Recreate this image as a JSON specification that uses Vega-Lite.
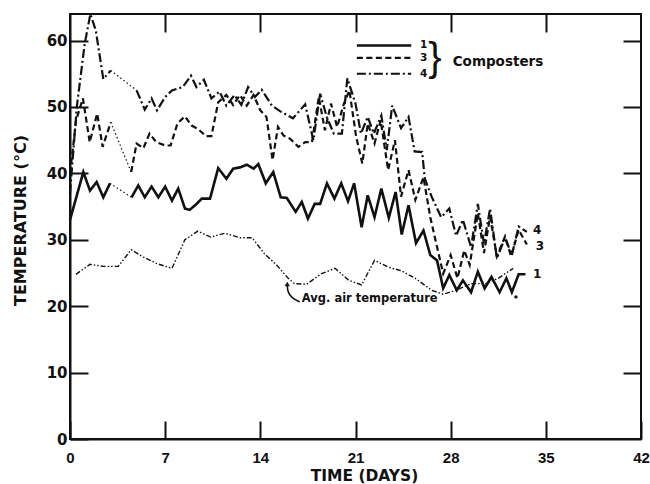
{
  "$schema": "https://vega.github.io/schema/vega-lite/v6.json",
  "width": 571,
  "height": 425,
  "autosize": "none",
  "padding": {"left": 70, "top": 14, "right": 9, "bottom": 45},
  "background": "white",
  "config": {
    "view": {"stroke": "#111", "strokeWidth": 2},
    "axis": {"grid": false}
  },
  "datasets": {
    "series": [
      {"line": "1a", "style": "solid", "d": 0, "t": 33},
      {"line": "1a", "style": "solid", "d": 0.98, "t": 40.2},
      {"line": "1a", "style": "solid", "d": 1.47, "t": 37.4},
      {"line": "1a", "style": "solid", "d": 1.96, "t": 38.7},
      {"line": "1a", "style": "solid", "d": 2.45, "t": 36.4},
      {"line": "1a", "style": "solid", "d": 2.94, "t": 38.5},
      {"line": "1g", "style": "dot", "d": 2.94, "t": 38.5},
      {"line": "1g", "style": "dot", "d": 4.53, "t": 36.4},
      {"line": "1b", "style": "solid", "d": 4.53, "t": 36.4},
      {"line": "1b", "style": "solid", "d": 5.02, "t": 38.2},
      {"line": "1b", "style": "solid", "d": 5.5, "t": 36.4},
      {"line": "1b", "style": "solid", "d": 6.0, "t": 38},
      {"line": "1b", "style": "solid", "d": 6.5, "t": 36.4},
      {"line": "1b", "style": "solid", "d": 7.0, "t": 38},
      {"line": "1b", "style": "solid", "d": 7.5, "t": 35.9},
      {"line": "1b", "style": "solid", "d": 7.96, "t": 37.7},
      {"line": "1b", "style": "solid", "d": 8.46, "t": 34.7},
      {"line": "1b", "style": "solid", "d": 8.8, "t": 34.5},
      {"line": "1b", "style": "solid", "d": 9.3, "t": 35.4},
      {"line": "1b", "style": "solid", "d": 9.7, "t": 36.2},
      {"line": "1b", "style": "solid", "d": 10.3, "t": 36.2},
      {"line": "1b", "style": "solid", "d": 10.9, "t": 40.8},
      {"line": "1b", "style": "solid", "d": 11.5, "t": 39.2},
      {"line": "1b", "style": "solid", "d": 12.0, "t": 40.7},
      {"line": "1b", "style": "solid", "d": 12.5, "t": 40.9},
      {"line": "1b", "style": "solid", "d": 13.0, "t": 41.3},
      {"line": "1b", "style": "solid", "d": 13.5, "t": 40.7},
      {"line": "1b", "style": "solid", "d": 13.85, "t": 41.4},
      {"line": "1b", "style": "solid", "d": 14.4, "t": 38.5},
      {"line": "1b", "style": "solid", "d": 14.95, "t": 40.2},
      {"line": "1b", "style": "solid", "d": 15.5, "t": 36.4},
      {"line": "1b", "style": "solid", "d": 15.95, "t": 36.3},
      {"line": "1b", "style": "solid", "d": 16.6, "t": 34.2},
      {"line": "1b", "style": "solid", "d": 17.05, "t": 35.7},
      {"line": "1b", "style": "solid", "d": 17.5, "t": 33.2},
      {"line": "1b", "style": "solid", "d": 18.0, "t": 35.4},
      {"line": "1b", "style": "solid", "d": 18.4, "t": 35.4},
      {"line": "1b", "style": "solid", "d": 18.9, "t": 38.5},
      {"line": "1b", "style": "solid", "d": 19.45, "t": 36.2},
      {"line": "1b", "style": "solid", "d": 19.95, "t": 38.5},
      {"line": "1b", "style": "solid", "d": 20.45, "t": 35.8},
      {"line": "1b", "style": "solid", "d": 20.9, "t": 38.5},
      {"line": "1b", "style": "solid", "d": 21.45, "t": 31.9},
      {"line": "1b", "style": "solid", "d": 21.9, "t": 36.7},
      {"line": "1b", "style": "solid", "d": 22.4, "t": 33.4},
      {"line": "1b", "style": "solid", "d": 22.9, "t": 37.7},
      {"line": "1b", "style": "solid", "d": 23.45, "t": 33.3},
      {"line": "1b", "style": "solid", "d": 23.95, "t": 37.2},
      {"line": "1b", "style": "solid", "d": 24.4, "t": 30.8},
      {"line": "1b", "style": "solid", "d": 24.9, "t": 35.2},
      {"line": "1b", "style": "solid", "d": 25.45, "t": 29.5},
      {"line": "1b", "style": "solid", "d": 26.0, "t": 31.4},
      {"line": "1b", "style": "solid", "d": 26.5, "t": 27.7},
      {"line": "1b", "style": "solid", "d": 27.0, "t": 26.9},
      {"line": "1b", "style": "solid", "d": 27.45, "t": 22.7},
      {"line": "1b", "style": "solid", "d": 27.9, "t": 24.7},
      {"line": "1b", "style": "solid", "d": 28.45, "t": 22.4},
      {"line": "1b", "style": "solid", "d": 28.9, "t": 23.9},
      {"line": "1b", "style": "solid", "d": 29.5, "t": 22.1},
      {"line": "1b", "style": "solid", "d": 30.0, "t": 25.2},
      {"line": "1b", "style": "solid", "d": 30.5, "t": 22.7},
      {"line": "1b", "style": "solid", "d": 31.0, "t": 24.4},
      {"line": "1b", "style": "solid", "d": 31.6, "t": 22.1},
      {"line": "1b", "style": "solid", "d": 32.1, "t": 24.2},
      {"line": "1b", "style": "solid", "d": 32.5, "t": 22.1},
      {"line": "1b", "style": "solid", "d": 33.0, "t": 24.8},
      {"line": "1b", "style": "solid", "d": 33.5, "t": 24.8},

      {"line": "3a", "style": "dash", "d": 0, "t": 40},
      {"line": "3a", "style": "dash", "d": 0.45, "t": 48},
      {"line": "3a", "style": "dash", "d": 0.95, "t": 51.3},
      {"line": "3a", "style": "dash", "d": 1.45, "t": 44.7},
      {"line": "3a", "style": "dash", "d": 2.0, "t": 49},
      {"line": "3a", "style": "dash", "d": 2.4, "t": 44},
      {"line": "3a", "style": "dash", "d": 3.0, "t": 47.7},
      {"line": "3g", "style": "dot", "d": 3.0, "t": 47.7},
      {"line": "3g", "style": "dot", "d": 4.5, "t": 40.2},
      {"line": "3b", "style": "dash", "d": 4.5, "t": 40.2},
      {"line": "3b", "style": "dash", "d": 4.9, "t": 44.5},
      {"line": "3b", "style": "dash", "d": 5.4, "t": 43.8},
      {"line": "3b", "style": "dash", "d": 5.85, "t": 46},
      {"line": "3b", "style": "dash", "d": 6.35, "t": 44.7},
      {"line": "3b", "style": "dash", "d": 7.0, "t": 44.2},
      {"line": "3b", "style": "dash", "d": 7.4, "t": 44.2},
      {"line": "3b", "style": "dash", "d": 7.9, "t": 47.5},
      {"line": "3b", "style": "dash", "d": 8.45, "t": 48.6},
      {"line": "3b", "style": "dash", "d": 8.95, "t": 47.2},
      {"line": "3b", "style": "dash", "d": 9.4, "t": 46.7},
      {"line": "3b", "style": "dash", "d": 10.0, "t": 45.6},
      {"line": "3b", "style": "dash", "d": 10.4, "t": 45.6},
      {"line": "3b", "style": "dash", "d": 10.9, "t": 50.7},
      {"line": "3b", "style": "dash", "d": 11.5, "t": 51.8},
      {"line": "3b", "style": "dash", "d": 12.0, "t": 50.3},
      {"line": "3b", "style": "dash", "d": 12.5, "t": 51.8},
      {"line": "3b", "style": "dash", "d": 13.0, "t": 50.2},
      {"line": "3b", "style": "dash", "d": 13.5, "t": 51.8},
      {"line": "3b", "style": "dash", "d": 14.0, "t": 49.5},
      {"line": "3b", "style": "dash", "d": 14.45, "t": 48.5},
      {"line": "3b", "style": "dash", "d": 14.9, "t": 42},
      {"line": "3b", "style": "dash", "d": 15.3, "t": 47},
      {"line": "3b", "style": "dash", "d": 15.7, "t": 45.7},
      {"line": "3b", "style": "dash", "d": 16.2, "t": 45.2},
      {"line": "3b", "style": "dash", "d": 16.8, "t": 44},
      {"line": "3b", "style": "dash", "d": 17.3, "t": 44.7},
      {"line": "3b", "style": "dash", "d": 17.8, "t": 44.7},
      {"line": "3b", "style": "dash", "d": 18.3, "t": 51.5},
      {"line": "3b", "style": "dash", "d": 18.75, "t": 46.5},
      {"line": "3b", "style": "dash", "d": 19.2, "t": 50.5},
      {"line": "3b", "style": "dash", "d": 19.65, "t": 47},
      {"line": "3b", "style": "dash", "d": 20.15, "t": 50.5},
      {"line": "3b", "style": "dash", "d": 20.55, "t": 52.5},
      {"line": "3b", "style": "dash", "d": 21.05, "t": 45.5},
      {"line": "3b", "style": "dash", "d": 21.5, "t": 41.5},
      {"line": "3b", "style": "dash", "d": 21.9, "t": 47.5},
      {"line": "3b", "style": "dash", "d": 22.4, "t": 44.5},
      {"line": "3b", "style": "dash", "d": 22.85, "t": 48},
      {"line": "3b", "style": "dash", "d": 23.4, "t": 40.5},
      {"line": "3b", "style": "dash", "d": 23.9, "t": 45},
      {"line": "3b", "style": "dash", "d": 24.35, "t": 36.5},
      {"line": "3b", "style": "dash", "d": 24.9, "t": 40.5},
      {"line": "3b", "style": "dash", "d": 25.4, "t": 36},
      {"line": "3b", "style": "dash", "d": 26.0, "t": 39.4},
      {"line": "3b", "style": "dash", "d": 26.5, "t": 33.4},
      {"line": "3b", "style": "dash", "d": 27.0, "t": 28.9},
      {"line": "3b", "style": "dash", "d": 27.45, "t": 24.9},
      {"line": "3b", "style": "dash", "d": 28.0, "t": 27.7},
      {"line": "3b", "style": "dash", "d": 28.5, "t": 24.2},
      {"line": "3b", "style": "dash", "d": 29.0, "t": 28.4},
      {"line": "3b", "style": "dash", "d": 29.4, "t": 26.2},
      {"line": "3b", "style": "dash", "d": 30.0, "t": 34},
      {"line": "3b", "style": "dash", "d": 30.45, "t": 28},
      {"line": "3b", "style": "dash", "d": 30.9, "t": 33.5},
      {"line": "3b", "style": "dash", "d": 31.4, "t": 27.5},
      {"line": "3b", "style": "dash", "d": 32.0, "t": 30.5},
      {"line": "3b", "style": "dash", "d": 32.45, "t": 27.5},
      {"line": "3b", "style": "dash", "d": 33.0, "t": 31.5},
      {"line": "3b", "style": "dash", "d": 33.6, "t": 29.3},

      {"line": "4a", "style": "dashdot", "d": 0, "t": 37},
      {"line": "4a", "style": "dashdot", "d": 0.5, "t": 50},
      {"line": "4a", "style": "dashdot", "d": 1.08, "t": 59.5},
      {"line": "4a", "style": "dashdot", "d": 1.5, "t": 64},
      {"line": "4a", "style": "dashdot", "d": 1.9, "t": 61.5},
      {"line": "4a", "style": "dashdot", "d": 2.45, "t": 54.2},
      {"line": "4a", "style": "dashdot", "d": 3.0, "t": 55.5},
      {"line": "4g", "style": "dot", "d": 3.0, "t": 55.5},
      {"line": "4g", "style": "dot", "d": 4.9, "t": 52.5},
      {"line": "4b", "style": "dashdot", "d": 4.9, "t": 52.5},
      {"line": "4b", "style": "dashdot", "d": 5.5, "t": 49.6},
      {"line": "4b", "style": "dashdot", "d": 6.0, "t": 51.3},
      {"line": "4b", "style": "dashdot", "d": 6.4, "t": 49.5},
      {"line": "4b", "style": "dashdot", "d": 7.0, "t": 51.5},
      {"line": "4b", "style": "dashdot", "d": 7.5, "t": 52.5},
      {"line": "4b", "style": "dashdot", "d": 8.3, "t": 53},
      {"line": "4b", "style": "dashdot", "d": 8.9, "t": 54.7},
      {"line": "4b", "style": "dashdot", "d": 9.3, "t": 53},
      {"line": "4b", "style": "dashdot", "d": 9.85, "t": 54.1},
      {"line": "4b", "style": "dashdot", "d": 10.4, "t": 51.3},
      {"line": "4b", "style": "dashdot", "d": 11.0, "t": 52.3},
      {"line": "4b", "style": "dashdot", "d": 11.5, "t": 50.2},
      {"line": "4b", "style": "dashdot", "d": 12.1, "t": 51.8},
      {"line": "4b", "style": "dashdot", "d": 12.6, "t": 50.3},
      {"line": "4b", "style": "dashdot", "d": 13.1, "t": 53},
      {"line": "4b", "style": "dashdot", "d": 13.6, "t": 51.5},
      {"line": "4b", "style": "dashdot", "d": 14.1, "t": 52.6},
      {"line": "4b", "style": "dashdot", "d": 14.85, "t": 50.2},
      {"line": "4b", "style": "dashdot", "d": 15.5, "t": 49.3},
      {"line": "4b", "style": "dashdot", "d": 16.4, "t": 48.3},
      {"line": "4b", "style": "dashdot", "d": 17.3, "t": 50.4},
      {"line": "4b", "style": "dashdot", "d": 17.9, "t": 45},
      {"line": "4b", "style": "dashdot", "d": 18.4, "t": 52},
      {"line": "4b", "style": "dashdot", "d": 18.9, "t": 48.4},
      {"line": "4b", "style": "dashdot", "d": 19.4, "t": 46},
      {"line": "4b", "style": "dashdot", "d": 20.0, "t": 46},
      {"line": "4b", "style": "dashdot", "d": 20.4, "t": 54.3},
      {"line": "4b", "style": "dashdot", "d": 21.0, "t": 50.5},
      {"line": "4b", "style": "dashdot", "d": 21.4, "t": 46},
      {"line": "4b", "style": "dashdot", "d": 21.9, "t": 48.5},
      {"line": "4b", "style": "dashdot", "d": 22.35, "t": 46},
      {"line": "4b", "style": "dashdot", "d": 22.9, "t": 48.7},
      {"line": "4b", "style": "dashdot", "d": 23.3, "t": 43.5},
      {"line": "4b", "style": "dashdot", "d": 23.7, "t": 50.2},
      {"line": "4b", "style": "dashdot", "d": 24.35, "t": 46.8},
      {"line": "4b", "style": "dashdot", "d": 24.9, "t": 48.5},
      {"line": "4b", "style": "dashdot", "d": 25.35, "t": 43.3},
      {"line": "4b", "style": "dashdot", "d": 25.9, "t": 43.2},
      {"line": "4b", "style": "dashdot", "d": 26.1, "t": 39.2},
      {"line": "4b", "style": "dashdot", "d": 26.6, "t": 36.5},
      {"line": "4b", "style": "dashdot", "d": 27.3, "t": 33.4},
      {"line": "4b", "style": "dashdot", "d": 27.9, "t": 34.7},
      {"line": "4b", "style": "dashdot", "d": 28.4, "t": 30.6},
      {"line": "4b", "style": "dashdot", "d": 28.9, "t": 33},
      {"line": "4b", "style": "dashdot", "d": 29.5, "t": 28.9},
      {"line": "4b", "style": "dashdot", "d": 30.0, "t": 35.4},
      {"line": "4b", "style": "dashdot", "d": 30.45, "t": 29.4},
      {"line": "4b", "style": "dashdot", "d": 30.9, "t": 34.7},
      {"line": "4b", "style": "dashdot", "d": 31.4, "t": 27.2},
      {"line": "4b", "style": "dashdot", "d": 32.0, "t": 30.3},
      {"line": "4b", "style": "dashdot", "d": 32.5, "t": 27.7},
      {"line": "4b", "style": "dashdot", "d": 33.0, "t": 32},
      {"line": "4b", "style": "dashdot", "d": 33.6, "t": 31.2},

      {"line": "air", "style": "air", "d": 0.44, "t": 24.8},
      {"line": "air", "style": "air", "d": 1.47, "t": 26.3},
      {"line": "air", "style": "air", "d": 2.45, "t": 26},
      {"line": "air", "style": "air", "d": 3.55, "t": 26},
      {"line": "air", "style": "air", "d": 4.5, "t": 28.5},
      {"line": "air", "style": "air", "d": 5.4, "t": 27.4},
      {"line": "air", "style": "air", "d": 6.4, "t": 26.4},
      {"line": "air", "style": "air", "d": 7.5, "t": 25.7},
      {"line": "air", "style": "air", "d": 8.45, "t": 30},
      {"line": "air", "style": "air", "d": 9.4, "t": 31.3},
      {"line": "air", "style": "air", "d": 10.35, "t": 30.4},
      {"line": "air", "style": "air", "d": 11.4, "t": 31},
      {"line": "air", "style": "air", "d": 12.5, "t": 30.3},
      {"line": "air", "style": "air", "d": 13.4, "t": 30.3},
      {"line": "air", "style": "air", "d": 14.3, "t": 27.9},
      {"line": "air", "style": "air", "d": 15.2, "t": 26.2},
      {"line": "air", "style": "air", "d": 16.05, "t": 24.2},
      {"line": "air", "style": "air", "d": 16.5, "t": 23.4},
      {"line": "air", "style": "air", "d": 17.4, "t": 23.3},
      {"line": "air", "style": "air", "d": 18.5, "t": 24.9},
      {"line": "air", "style": "air", "d": 19.5, "t": 25.7},
      {"line": "air", "style": "air", "d": 20.5, "t": 23.9},
      {"line": "air", "style": "air", "d": 21.45, "t": 23.2},
      {"line": "air", "style": "air", "d": 22.4, "t": 26.9},
      {"line": "air", "style": "air", "d": 23.4, "t": 25.9},
      {"line": "air", "style": "air", "d": 24.4, "t": 25.3},
      {"line": "air", "style": "air", "d": 25.4, "t": 24.2},
      {"line": "air", "style": "air", "d": 26.6, "t": 22.4},
      {"line": "air", "style": "air", "d": 27.45, "t": 21.8},
      {"line": "air", "style": "air", "d": 28.4, "t": 22.4},
      {"line": "air", "style": "air", "d": 29.5, "t": 23.4},
      {"line": "air", "style": "air", "d": 30.6, "t": 23.4},
      {"line": "air", "style": "air", "d": 31.5, "t": 24.2},
      {"line": "air", "style": "air", "d": 32.6, "t": 25.7},

      {"line": "L1", "style": "solid", "d": 21.1, "t": 59.25},
      {"line": "L1", "style": "solid", "d": 25.1, "t": 59.25},
      {"line": "L3", "style": "dash", "d": 21.1, "t": 57.4},
      {"line": "L3", "style": "dash", "d": 25.1, "t": 57.4},
      {"line": "L4", "style": "dashdot", "d": 21.1, "t": 55},
      {"line": "L4", "style": "dashdot", "d": 25.1, "t": 55}
    ]
  },
  "layer": [
    {
      "data": {"name": "series"},
      "transform": [{"filter": "datum.style == 'solid'"}],
      "mark": {"type": "line", "color": "#111", "strokeWidth": 2.6, "strokeJoin": "miter"},
      "encoding": {
        "x": {"field": "d", "type": "quantitative", "scale": {"domain": [0, 42], "nice": false, "zero": false},
          "axis": {"orient": "bottom", "values": [0, 7, 14, 21, 28, 35, 42], "tickSize": -18, "tickWidth": 2, "tickColor": "#111",
            "domainColor": "#111", "domainWidth": 2, "labelPadding": 29, "labelFont": "Liberation Sans", "labelFontWeight": "bold",
            "labelFontSize": 15, "labelColor": "#111", "labelFlush": false, "labelOverlap": false,
            "title": "TIME (DAYS)", "titleFont": "DejaVu Sans", "titleFontWeight": "bold", "titleFontSize": 15.5, "titleColor": "#111",
            "titleX": 294, "titleY": 41, "titleBaseline": "alphabetic"}},
        "y": {"field": "t", "type": "quantitative", "scale": {"domain": [0, 64], "nice": false, "zero": false},
          "axis": {"orient": "left", "values": [0, 10, 20, 30, 40, 50, 60], "tickSize": -18, "tickWidth": 2, "tickColor": "#111",
            "domainColor": "#111", "domainWidth": 2, "labelPadding": 21, "labelFont": "DejaVu Sans", "labelFontWeight": "bold",
            "labelFontSize": 15, "labelColor": "#111", "labelFlush": false, "labelOverlap": false,
            "title": "TEMPERATURE (°C)", "titleFont": "DejaVu Sans", "titleFontWeight": "bold", "titleFontSize": 16, "titleColor": "#111",
            "titleX": -45, "titleY": 206, "titleBaseline": "alphabetic", "titleAngle": -90}},
        "detail": {"field": "line"}
      }
    },
    {
      "data": {"name": "series"},
      "transform": [{"filter": "datum.style == 'dash'"}],
      "mark": {"type": "line", "color": "#111", "strokeWidth": 2.2, "strokeDash": [6, 3.5]},
      "encoding": {
        "x": {"field": "d", "type": "quantitative", "axis": null},
        "y": {"field": "t", "type": "quantitative", "axis": null},
        "detail": {"field": "line"}
      }
    },
    {
      "data": {"name": "series"},
      "transform": [{"filter": "datum.style == 'dashdot'"}],
      "mark": {"type": "line", "color": "#111", "strokeWidth": 2.2, "strokeDash": [9, 3, 2, 3]},
      "encoding": {
        "x": {"field": "d", "type": "quantitative", "axis": null},
        "y": {"field": "t", "type": "quantitative", "axis": null},
        "detail": {"field": "line"}
      }
    },
    {
      "data": {"name": "series"},
      "transform": [{"filter": "datum.style == 'air'"}],
      "mark": {"type": "line", "color": "#111", "strokeWidth": 1.4, "strokeDash": [5, 2, 1.5, 2, 1.5, 2]},
      "encoding": {
        "x": {"field": "d", "type": "quantitative", "axis": null},
        "y": {"field": "t", "type": "quantitative", "axis": null},
        "detail": {"field": "line"}
      }
    },
    {
      "data": {"name": "series"},
      "transform": [{"filter": "datum.style == 'dot'"}],
      "mark": {"type": "line", "color": "#111", "strokeWidth": 1.2, "strokeDash": [1.5, 2.5]},
      "encoding": {
        "x": {"field": "d", "type": "quantitative", "axis": null},
        "y": {"field": "t", "type": "quantitative", "axis": null},
        "detail": {"field": "line"}
      }
    },
    {
      "data": {"values": [
        {"d": 16.9, "t": 20.65},
        {"d": 16.3, "t": 21.2},
        {"d": 16.0, "t": 22.2},
        {"d": 15.98, "t": 23.3}
      ]},
      "mark": {"type": "line", "color": "#111", "strokeWidth": 1.6, "interpolate": "basis"},
      "encoding": {
        "x": {"field": "d", "type": "quantitative", "axis": null},
        "y": {"field": "t", "type": "quantitative", "axis": null}
      }
    },
    {
      "data": {"values": [{"d": 15.98, "t": 23.35}]},
      "mark": {"type": "point", "shape": "triangle-up", "filled": true, "color": "#111", "size": 28, "opacity": 1},
      "encoding": {
        "x": {"field": "d", "type": "quantitative", "axis": null},
        "y": {"field": "t", "type": "quantitative", "axis": null}
      }
    },
    {
      "data": {"values": [{"d": 32.8, "t": 21.4}]},
      "mark": {"type": "point", "shape": "circle", "filled": true, "color": "#111", "size": 12, "opacity": 1},
      "encoding": {
        "x": {"field": "d", "type": "quantitative", "axis": null},
        "y": {"field": "t", "type": "quantitative", "axis": null}
      }
    },
    {
      "data": {"values": [
        {"d": 34.05, "t": 31.4, "label": "4"},
        {"d": 34.25, "t": 29.0, "label": "3"},
        {"d": 34.05, "t": 24.8, "label": "1"}
      ]},
      "mark": {"type": "text", "font": "DejaVu Sans", "fontWeight": "bold", "fontSize": 12, "align": "left", "baseline": "middle", "color": "#111"},
      "encoding": {
        "x": {"field": "d", "type": "quantitative",
          "axis": {"orient": "top", "values": [7, 14, 21, 28, 35], "labels": false, "domain": false, "tickSize": -18, "tickWidth": 2, "tickColor": "#111", "title": null, "grid": false}},
        "y": {"field": "t", "type": "quantitative",
          "axis": {"orient": "right", "values": [10, 20, 30, 40, 50, 60], "labels": false, "domain": false, "tickSize": -18, "tickWidth": 2, "tickColor": "#111", "title": null, "grid": false}},
        "text": {"field": "label"}
      }
    },
    {
      "data": {"values": [
        {"d": 25.74, "t": 59.4, "label": "1"},
        {"d": 25.74, "t": 57.3, "label": "3"},
        {"d": 25.74, "t": 54.9, "label": "4"}
      ]},
      "mark": {"type": "text", "font": "DejaVu Sans", "fontWeight": "bold", "fontSize": 10.5, "align": "left", "baseline": "middle", "color": "#111"},
      "encoding": {
        "x": {"field": "d", "type": "quantitative", "axis": null},
        "y": {"field": "t", "type": "quantitative", "axis": null},
        "text": {"field": "label"}
      }
    },
    {
      "data": {"values": [{"d": 26.84, "t": 57.2, "label": "}"}]},
      "mark": {"type": "text", "font": "Liberation Sans", "fontSize": 40, "align": "center", "baseline": "middle", "color": "#111"},
      "encoding": {
        "x": {"field": "d", "type": "quantitative", "axis": null},
        "y": {"field": "t", "type": "quantitative", "axis": null},
        "text": {"field": "label"}
      }
    },
    {
      "data": {"values": [{"d": 28.15, "t": 56.8, "label": "Composters"}]},
      "mark": {"type": "text", "font": "DejaVu Sans", "fontWeight": "bold", "fontSize": 13.5, "align": "left", "baseline": "middle", "color": "#111"},
      "encoding": {
        "x": {"field": "d", "type": "quantitative", "axis": null},
        "y": {"field": "t", "type": "quantitative", "axis": null},
        "text": {"field": "label"}
      }
    },
    {
      "data": {"values": [{"d": 17.05, "t": 20.6, "label": "Avg. air temperature"}]},
      "mark": {"type": "text", "font": "DejaVu Sans", "fontWeight": "bold", "fontSize": 11.5, "align": "left", "baseline": "alphabetic", "color": "#111"},
      "encoding": {
        "x": {"field": "d", "type": "quantitative", "axis": null},
        "y": {"field": "t", "type": "quantitative", "axis": null},
        "text": {"field": "label"}
      }
    }
  ],
  "resolve": {"axis": {"x": "independent", "y": "independent"}}
}
